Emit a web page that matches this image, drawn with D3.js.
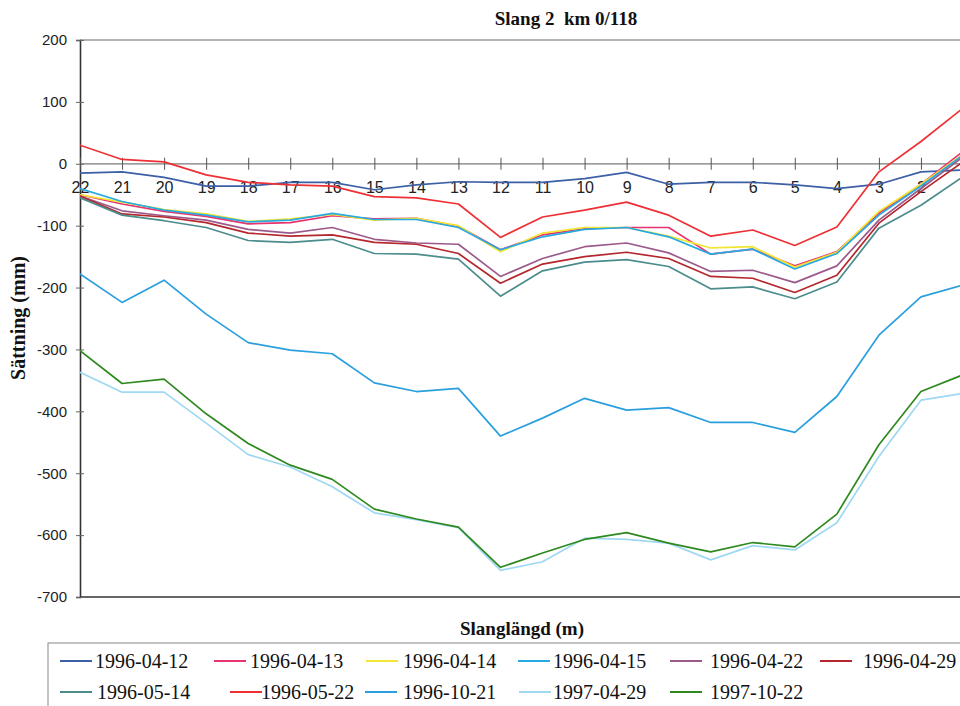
<!DOCTYPE html>
<html>
<head>
<meta charset="utf-8">
<script src="https://cdn.jsdelivr.net/npm/d3@7"></script>
<style>
  html, body { margin: 0; padding: 0; background: #fff; }
  svg { display: block; }
</style>
</head>
<body>
<svg id="chart" width="960" height="706"></svg>
<script>
// Measuring points along the hose, from 22 down to 1
const points = [22, 21, 20, 19, 18, 17, 16, 15, 14, 13, 12, 11, 10, 9, 8, 7, 6, 5, 4, 3, 2, 1];
const xTickLabels = ["22","21","20","19","18","17","16","15","14","13","12","11","10","9","8","7","6","5","4","3","2"];
const yTicks = [200, 100, 0, -100, -200, -300, -400, -500, -600, -700];

// Settlement (mm) per measuring date
const s19960412 = [-15, -13, -22, -36, -36, -30, -30, -42, -34, -29, -30, -30, -24, -14, -33, -30, -30, -34, -40, -33, -13, -10];
const s19960413 = [-50, -65, -77, -85, -97, -95, -84, -89, -88, -101, -139, -115, -105, -103, -103, -146, -138, -165, -142, -80, -33, 20];
const s19960414 = [-50, -62, -74, -81, -93, -89, -82, -91, -88, -100, -142, -112, -103, -103, -117, -136, -134, -167, -143, -77, -33, 15];
const s19960415 = [-40, -61, -75, -83, -94, -91, -80, -90, -90, -103, -139, -118, -106, -103, -118, -146, -138, -170, -145, -83, -36, 14];
const s19960422 = [-52, -76, -84, -91, -106, -112, -103, -122, -128, -130, -182, -153, -134, -128, -144, -174, -172, -192, -165, -91, -40, 11];
const s19960429 = [-52, -81, -86, -95, -112, -117, -115, -127, -130, -145, -193, -162, -150, -143, -153, -182, -185, -208, -180, -96, -45, 3];
const s19960514 = [-55, -83, -92, -103, -124, -127, -122, -145, -146, -154, -214, -173, -159, -155, -166, -202, -199, -218, -191, -104, -67, -21];
const s19960522 = [30, 7, 3, -18, -30, -34, -36, -53, -55, -65, -119, -86, -75, -62, -83, -117, -107, -132, -102, -13, 36, 90];
const s19961021 = [-178, -224, -188, -243, -289, -301, -307, -354, -368, -363, -440, -411, -379, -398, -394, -418, -418, -434, -376, -277, -215, -196];
const s19970429 = [-337, -369, -369, -419, -470, -490, -522, -564, -575, -588, -657, -643, -605, -607, -613, -640, -617, -624, -580, -473, -382, -371];
const s19971022 = [-302, -355, -348, -404, -452, -487, -510, -558, -574, -587, -652, -629, -607, -596, -613, -627, -612, -619, -566, -454, -368, -341];

const seriesNames = ["1996-04-12", "1996-04-13", "1996-04-14", "1996-04-15", "1996-04-22", "1996-04-29",
                     "1996-05-14", "1996-05-22", "1996-10-21", "1997-04-29", "1997-10-22"];
const seriesValues = [s19960412, s19960413, s19960414, s19960415, s19960422, s19960429,
                      s19960514, s19960522, s19961021, s19970429, s19971022];
const seriesColors = ["#3d5fa6", "#e8336e", "#f2e634", "#27a9e1", "#9c5a8c", "#b3272d",
                      "#4b8c8c", "#ee3035", "#2a9fde", "#9fd8f3", "#2e8a1f"];

const svg = d3.select("#chart");
const W = 960, H = 706;
const plot = { left: 80, top: 40, bottom: 597 };

const x = d3.scaleLinear().domain([22, 1]).range([80, 963]);
const y = d3.scaleLinear().domain([-700, 200]).range([plot.bottom, plot.top]);

const sans = "'Liberation Sans', Arial, sans-serif";
const serif = "'Liberation Serif', 'Times New Roman', serif";

// Frame: top and bottom borders, left axis line
svg.append("line").attr("x1", plot.left).attr("x2", W).attr("y1", plot.top).attr("y2", plot.top)
  .attr("stroke", "#6a6a6a").attr("stroke-width", 1.2);
svg.append("line").attr("x1", plot.left).attr("x2", W).attr("y1", plot.bottom).attr("y2", plot.bottom)
  .attr("stroke", "#333").attr("stroke-width", 1.6);

// Y axis (plain hyphen for negative numbers)
const yAxis = svg.append("g").attr("transform", `translate(${plot.left},0)`)
  .call(d3.axisLeft(y).tickValues(yTicks).tickFormat(d => String(d)).tickSize(4).tickPadding(9));
yAxis.select(".domain").attr("stroke", "#333").attr("stroke-width", 1.6);
yAxis.selectAll(".tick line").attr("x2", 4).attr("x1", -4).attr("stroke", "#666");
yAxis.selectAll(".tick text").attr("font-family", sans).attr("font-size", 15).attr("fill", "#222");

// X axis drawn through zero, ticks crossing the line
const xAxis = svg.append("g").attr("transform", `translate(0,${y(0)})`)
  .call(d3.axisBottom(x).tickValues(points.slice(0, 21)).tickFormat((d, i) => xTickLabels[i])
    .tickSize(6).tickPadding(12));
xAxis.select(".domain").remove();
xAxis.insert("line", ":first-child").attr("x1", plot.left).attr("x2", W).attr("y1", 0).attr("y2", 0)
  .attr("stroke", "#7a7a7a").attr("stroke-width", 1.2);
xAxis.selectAll(".tick line").attr("y1", -6).attr("y2", 6).attr("stroke", "#555");
xAxis.selectAll(".tick text").attr("font-family", sans).attr("font-size", 16).attr("fill", "#222");

// Series lines
const line = d3.line().x((d, i) => x(points[i])).y(d => y(d));
svg.append("clipPath").attr("id", "plotClip").append("rect")
  .attr("x", plot.left).attr("y", plot.top).attr("width", W - plot.left).attr("height", plot.bottom - plot.top);
svg.append("g").attr("clip-path", "url(#plotClip)")
  .selectAll("path").data(seriesValues).join("path")
  .attr("d", d => line(d))
  .attr("fill", "none")
  .attr("stroke", (d, i) => seriesColors[i])
  .attr("stroke-width", 1.7)
  .attr("stroke-linejoin", "round");

// Titles
svg.append("text").attr("x", 566).attr("y", 25).attr("text-anchor", "middle")
  .attr("font-family", serif).attr("font-weight", "bold").attr("font-size", 19)
  .attr("fill", "#111").attr("xml:space", "preserve").text("Slang 2  km 0/118");
svg.append("text").attr("transform", "translate(25,318) rotate(-90)").attr("text-anchor", "middle")
  .attr("font-family", serif).attr("font-weight", "bold").attr("font-size", 20)
  .attr("fill", "#111").text("Sättning (mm)");
svg.append("text").attr("x", 522).attr("y", 635).attr("text-anchor", "middle")
  .attr("font-family", serif).attr("font-weight", "bold").attr("font-size", 19)
  .attr("fill", "#111").text("Slanglängd (m)");

// Legend box with two rows of entries
svg.append("rect").attr("x", 48).attr("y", 643).attr("width", 960).attr("height", 80)
  .attr("fill", "none").attr("stroke", "#888").attr("stroke-width", 1);
const legendRows = [
  { y: 661, lineX: [60, 214, 366, 518, 670, 820], textX: [95, 250, 403, 553, 710, 863] },
  { y: 692, lineX: [60, 230, 365, 519, 670], textX: [97, 261, 403, 553, 710] }
];
let k = 0;
legendRows.forEach(row => {
  row.lineX.forEach((lx, j) => {
    const idx = k++;
    const g = svg.append("g");
    g.append("line").attr("x1", lx).attr("x2", lx + 32).attr("y1", row.y).attr("y2", row.y)
      .attr("stroke", seriesColors[idx]).attr("stroke-width", 2);
    g.append("text").attr("x", row.textX[j]).attr("y", row.y + 7)
      .attr("font-family", serif).attr("font-size", 20).attr("fill", "#111")
      .text(seriesNames[idx]);
  });
});
</script>
</body>
</html>
